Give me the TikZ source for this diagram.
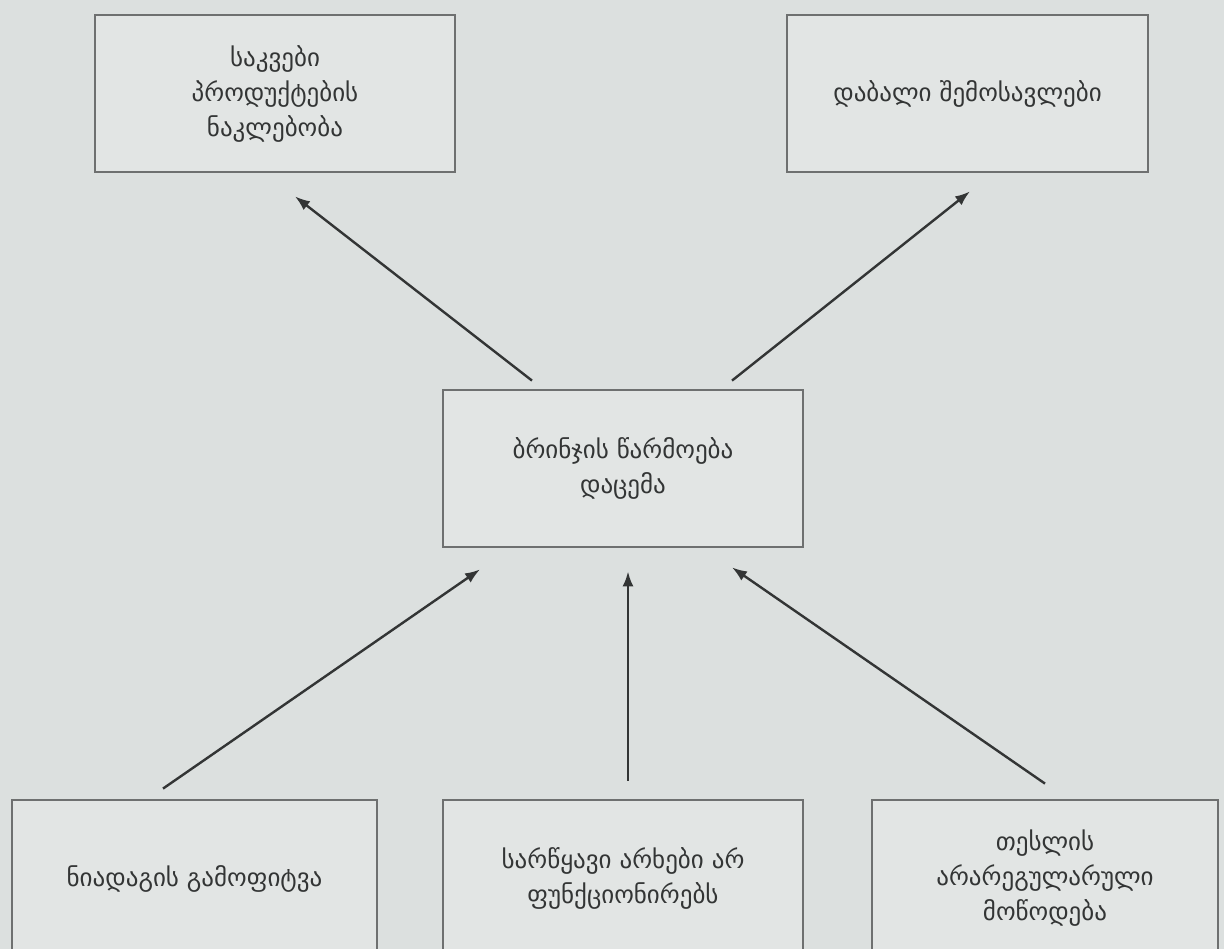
\documentclass[tikz,border=0pt]{standalone}
\usepackage{fontspec}
\setmainfont{DejaVu Sans}
\usetikzlibrary{arrows.meta,calc}
\definecolor{bgc}{HTML}{DCE0DF}
\definecolor{boxfill}{HTML}{E2E5E4}
\definecolor{edge}{HTML}{6E7070}
\definecolor{ink}{HTML}{333535}
\tikzset{
  box/.style={draw=edge, line width=2.8pt, fill=boxfill, text=ink,
    minimum width=360pt, minimum height=157pt, align=center, inner sep=2pt,
    font=\fontsize{25pt}{35pt}\selectfont},
  arr/.style={draw=ink, line width=2.4pt, -{Latex[length=15pt,width=11pt]}}
}
\begin{document}
\begin{tikzpicture}[x=1pt,y=1pt]
\useasboundingbox (0,0) rectangle (1224,-949);
\clip (0,0) rectangle (1224,-949);
\fill[bgc] (0,0) rectangle (1224,-949);
\node[box] (t1) at (275,-93.5) {საკვები\\პროდუქტების\\ნაკლებობა};
\node[box, minimum width=361pt] (t2) at (967.5,-93.5) {დაბალი შემოსავლები};
\node[box] (c) at (623,-468.5) {ბრინჯის წარმოება\\დაცემა};
\node[box, minimum width=365pt] (bl) at (194.5,-878.5) {ნიადაგის გამოფიტვა};
\node[box] (bm) at (623,-878.5) {სარწყავი არხები არ\\ფუნქციონირებს};
\node[box, minimum width=346pt] (br) at (1045,-878.5) {თესლის\\არარეგულარული\\მოწოდება};
\draw[arr] ($(c.north)+(-91,8)$) -- ($(t1.south)+(20,-23)$);
\draw[arr] ($(c.north)+(109,8)$) -- ($(t2.south)+(2.5,-18)$);
\draw[arr] ($(bl.north)+(-31.5,10)$) -- ($(c.south)+(-143,-21)$);
\draw[arr] ($(bm.north)+(5,18)$) -- ($(c.south)+(5,-23)$);
\draw[arr] ($(br.north)+(0,15)$) -- ($(c.south)+(109,-19)$);
\end{tikzpicture}
\end{document}
